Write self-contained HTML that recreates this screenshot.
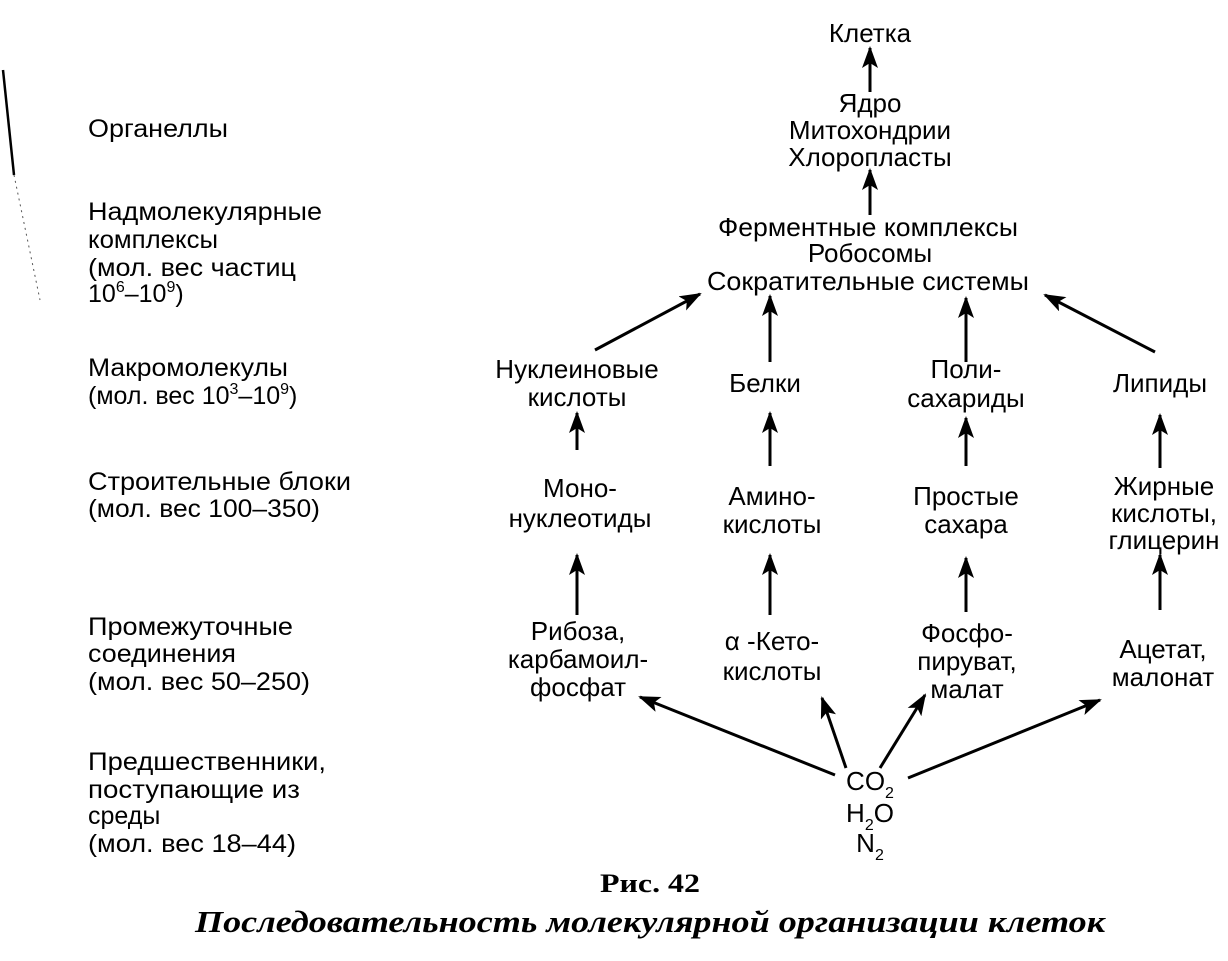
<!DOCTYPE html>
<html><head><meta charset="utf-8"><style>
html,body{margin:0;padding:0;background:#fff}
svg text{font-family:"Liberation Sans",sans-serif;fill:#000}
.l{font-size:25px}
.c{font-size:26px;text-anchor:middle}
.s{font-size:16px}
</style></head><body>
<svg width="1228" height="956" viewBox="0 0 1228 956" xmlns="http://www.w3.org/2000/svg">
<defs><marker id="b" markerWidth="22" markerHeight="16" refX="20" refY="8" orient="auto" markerUnits="userSpaceOnUse"><path d="M0,0 L22,8 L0,16 L5,8 Z" fill="#000"/></marker></defs>
<path d="M3,70 L14,175" stroke="#000" stroke-width="2.5" fill="none"/>
<path d="M14,175 L40,300" stroke="#555" stroke-width="1" stroke-dasharray="2,4" fill="none"/>

<g class="l">
<text x="88" y="137" textLength="140" lengthAdjust="spacingAndGlyphs">Органеллы</text>
<text x="88" y="220" textLength="234" lengthAdjust="spacingAndGlyphs">Надмолекулярные</text>
<text x="88" y="248" textLength="130" lengthAdjust="spacingAndGlyphs">комплексы</text>
<text x="88" y="276" textLength="208" lengthAdjust="spacingAndGlyphs">(мол. вес частиц</text>
<text x="88" y="302">10<tspan class="s" dy="-10">6</tspan><tspan dy="10">–10</tspan><tspan class="s" dy="-10">9</tspan><tspan dy="10">)</tspan></text>
<text x="88" y="376" textLength="200" lengthAdjust="spacingAndGlyphs">Макромолекулы</text>
<text x="88" y="404">(мол. вес 10<tspan class="s" dy="-10">3</tspan><tspan dy="10">–10</tspan><tspan class="s" dy="-10">9</tspan><tspan dy="10">)</tspan></text>
<text x="88" y="490" textLength="263" lengthAdjust="spacingAndGlyphs">Строительные блоки</text>
<text x="88" y="517" textLength="232" lengthAdjust="spacingAndGlyphs">(мол. вес 100–350)</text>
<text x="88" y="635" textLength="205" lengthAdjust="spacingAndGlyphs">Промежуточные</text>
<text x="88" y="662" textLength="148" lengthAdjust="spacingAndGlyphs">соединения</text>
<text x="88" y="690" textLength="222" lengthAdjust="spacingAndGlyphs">(мол. вес 50–250)</text>
<text x="88" y="770" textLength="238" lengthAdjust="spacingAndGlyphs">Предшественники,</text>
<text x="88" y="798" textLength="212" lengthAdjust="spacingAndGlyphs">поступающие из</text>
<text x="88" y="824">среды</text>
<text x="88" y="852" textLength="208" lengthAdjust="spacingAndGlyphs">(мол. вес 18–44)</text>
</g>

<g class="c">
<text x="870" y="42">Клетка</text>
<text x="870" y="112">Ядро</text>
<text x="870" y="139">Митохондрии</text>
<text x="870" y="166">Хлоропласты</text>
<text x="868" y="236" textLength="300" lengthAdjust="spacingAndGlyphs">Ферментные комплексы</text>
<text x="870" y="262">Робосомы</text>
<text x="868" y="290" textLength="322" lengthAdjust="spacingAndGlyphs">Сократительные системы</text>

<text x="577" y="378">Нуклеиновые</text>
<text x="577" y="406">кислоты</text>
<text x="765" y="392">Белки</text>
<text x="966" y="378">Поли-</text>
<text x="966" y="407">сахариды</text>
<text x="1160" y="392">Липиды</text>

<text x="580" y="497">Моно-</text>
<text x="580" y="527">нуклеотиды</text>
<text x="772" y="505">Амино-</text>
<text x="772" y="533">кислоты</text>
<text x="966" y="505">Простые</text>
<text x="966" y="533">сахара</text>
<text x="1164" y="495">Жирные</text>
<text x="1164" y="522">кислоты,</text>
<text x="1164" y="549">глицерин</text>

<text x="578" y="640">Рибоза,</text>
<text x="578" y="668">карбамоил-</text>
<text x="578" y="696">фосфат</text>
<text x="772" y="650">α -Кето-</text>
<text x="772" y="680">кислоты</text>
<text x="967" y="642">Фосфо-</text>
<text x="967" y="670">пируват,</text>
<text x="967" y="698">малат</text>
<text x="1163" y="658">Ацетат,</text>
<text x="1163" y="686">малонат</text>

<text x="870" y="790">CO<tspan class="s" dy="8">2</tspan></text>
<text x="870" y="822">H<tspan class="s" dy="8">2</tspan><tspan dy="-8">O</tspan></text>
<text x="870" y="852">N<tspan class="s" dy="8">2</tspan></text>
</g>

<g stroke="#000" stroke-width="3" marker-end="url(#b)" fill="none">
<line x1="870" y1="92" x2="870" y2="48"/>
<line x1="870" y1="215" x2="870" y2="170"/>
<line x1="595" y1="350" x2="700" y2="294"/>
<line x1="770" y1="362" x2="770" y2="296"/>
<line x1="966" y1="362" x2="966" y2="298"/>
<line x1="1155" y1="352" x2="1045" y2="295"/>
<line x1="577" y1="450" x2="577" y2="413"/>
<line x1="770" y1="466" x2="770" y2="413"/>
<line x1="966" y1="466" x2="966" y2="418"/>
<line x1="1160" y1="468" x2="1160" y2="415"/>
<line x1="577" y1="615" x2="577" y2="555"/>
<line x1="770" y1="615" x2="770" y2="555"/>
<line x1="966" y1="612" x2="966" y2="558"/>
<line x1="1160" y1="610" x2="1160" y2="555"/>
<line x1="835" y1="775" x2="640" y2="697"/>
<line x1="846" y1="768" x2="822" y2="698"/>
<line x1="880" y1="768" x2="925" y2="695"/>
<line x1="908" y1="778" x2="1100" y2="700"/>
</g>

<text x="650" y="892" textLength="100" lengthAdjust="spacingAndGlyphs" style="font-family:'Liberation Serif',serif;font-weight:bold;font-size:26px;text-anchor:middle">Рис. 42</text>
<text x="650" y="932" textLength="910" lengthAdjust="spacingAndGlyphs" style="font-family:'Liberation Serif',serif;font-weight:bold;font-style:italic;font-size:31px;text-anchor:middle">Последовательность молекулярной организации клеток</text>
</svg>
</body></html>
